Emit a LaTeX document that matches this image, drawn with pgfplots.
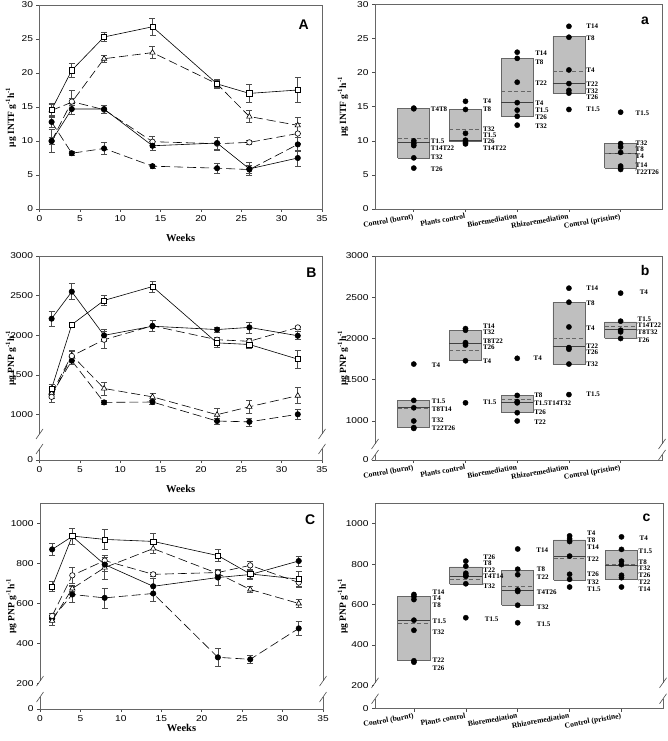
\documentclass[border=0pt]{standalone}
\usepackage{fontspec}
\setmainfont{Liberation Serif}
\setsansfont{Liberation Sans}
\newfontfamily\tickfont[FakeStretch=1.2]{Liberation Sans}
\newfontfamily\letterfont{Liberation Sans}
\usepackage{pgfplots}
\pgfplotsset{compat=1.18}
\pgfplotsset{
 base/.style={scale only axis, clip=false, axis line style={draw=black!60, line width=0.8pt},
   tick style={draw=black!70, line width=0.6pt}, tick align=outside, major tick length=3pt, tick pos=left,
   tick label style={font=\tickfont\fontsize{8.5}{9}\selectfont}, /pgf/number format/assume math mode=true,
   ylabel style={font=\bfseries\fontsize{9.5}{10}\selectfont, anchor=center},
   xlabel style={font=\bfseries\fontsize{10.5}{11}\selectfont, anchor=center}},
 leftp/.style={base, width=282.5pt, xmin=0, xmax=35, xtick={0,5,...,35}, xlabel={Weeks},
   ylabel style={at={(axis description cs:-0.101,0.5)}}},
 rightp/.style={base, width=287pt, xmin=0.25, xmax=5.8, xtick={1,2,3,4,5},
   xticklabels={Control (burnt),Plants control,Bioremediation,Rhizoremediation,Control (pristine)},
   xticklabel style={font=\bfseries\fontsize{7.6}{8}\selectfont, rotate=10, anchor=north east, inner sep=1pt},
   ylabel style={at={(axis description cs:-0.1115,0.5)}}},
 sFS/.style={black, line width=0.6pt, solid, mark=*, mark size=2.7pt, mark options={solid, fill=black}},
 sOS/.style={black, line width=0.6pt, solid, mark=square*, mark size=2.6pt, mark options={solid, fill=white}},
 sOT/.style={black, line width=0.6pt, dash pattern=on 9pt off 4pt, mark=triangle*, mark size=3.1pt, mark options={solid, fill=white}},
 sOC/.style={black, line width=0.6pt, dash pattern=on 9pt off 4pt, mark=*, mark size=2.7pt, mark options={solid, fill=white}},
 sFD/.style={black, line width=0.6pt, dash pattern=on 9pt off 4pt, mark=*, mark size=2.7pt, mark options={solid, fill=black}},
 eb/.style={error bars/.cd, y dir=both, y explicit, error bar style={line width=0.6pt, draw=black!70, solid},
   error mark options={rotate=90, mark size=3pt, line width=0.6pt, draw=black!70, solid}},
 boxst/.style={draw=black!60, line width=0.7pt, fill=black!25},
 medst/.style={draw=black!75, line width=1pt},
 meanst/.style={draw=black!60, line width=1pt, dash pattern=on 4pt off 2.5pt},
 dots/.style={only marks, mark=*, mark size=2.6pt, black},
}
\tikzset{lab/.style={anchor=west, inner sep=0.3pt, font=\bfseries\fontsize{7}{7}\selectfont},
 letter/.style={font=\letterfont\bfseries\fontsize{14}{14}\selectfont}}
\newcommand{\bx}[6]{%
 \addplot[boxst] coordinates {(#1,#3) (#2,#3) (#2,#4) (#1,#4) (#1,#3)};
 \addplot[medst] coordinates {(#1,#5) (#2,#5)};
 \addplot[meanst] coordinates {(#1,#6) (#2,#6)};}
\newcommand{\lb}[3]{\node[lab] at (axis cs:#1,#2) {#3};}
\newcommand{\brk}[4]{%
 \draw[white, line width=2.5pt] (axis cs:#1,#3) -- (axis cs:#1,#4) (axis cs:#2,#3) -- (axis cs:#2,#4);
 \draw[black!70, line width=0.6pt] (axis cs:#1,#3) ++(-3.5pt,-5pt) -- ++(7pt,10pt)
   (axis cs:#1,#4) ++(-3.5pt,-5pt) -- ++(7pt,10pt)
   (axis cs:#2,#3) ++(-3.5pt,-5pt) -- ++(7pt,10pt)
   (axis cs:#2,#4) ++(-3.5pt,-5pt) -- ++(7pt,10pt);}
\begin{document}
\begin{tikzpicture}
\path[use as bounding box] (0,0) rectangle (667pt,-741pt);
%%%%%%%%%%%%%%%% A
\begin{axis}[leftp, at={(39.5pt,-5pt)}, anchor=north west, height=204pt, ymin=0, ymax=30, ytick={0,5,...,30},
  ylabel={μg INTF g\textsuperscript{-1}h\textsuperscript{-1}}, ylabel style={at={(axis description cs:-0.101,0.45)}},
  xlabel style={at={(axis description cs:0.5,-0.142)}}]
\addplot[sFD, eb] coordinates {(1.5,12.8) +- (0,0.8) (4,8.2) +- (0,0.3) (8,8.9) +- (0,0.9) (14,6.3) +- (0,0.3) (22,6.0) +- (0,0.7) (26,5.8) +- (0,0.6) (32,9.5) +- (0,1.0)};
\addplot[sOT, eb] coordinates {(1.5,14.5) +- (0,1.0) (4,15.7) +- (0,1.8) (8,22.1) +- (0,0.5) (14,23.0) +- (0,0.9) (22,18.4) +- (0,0.5) (26,13.6) +- (0,0.9) (32,12.3) +- (0,1.2)};
\addplot[sOC, eb] coordinates {(1.5,10.0) +- (0,1.7) (4,15.8) +- (0,0.5) (8,14.6) +- (0,0.6) (14,9.9) +- (0,0.8) (22,9.6) +- (0,1.0) (26,9.8) +- (0,0.3) (32,11.1) +- (0,1.5)};
\addplot[sFS, eb] coordinates {(1.5,10.0) +- (0,0.5) (4,14.7) +- (0,0.8) (8,14.7) +- (0,0.6) (14,9.3) +- (0,0.6) (22,9.7) +- (0,0.9) (26,5.9) +- (0,0.9) (32,7.5) +- (0,1.2)};
\addplot[sOS, eb] coordinates {(1.5,14.6) +- (0,0.8) (4,20.4) +- (0,1.0) (8,25.3) +- (0,0.7) (14,26.8) +- (0,1.2) (22,18.4) +- (0,0.6) (26,17.0) +- (0,1.3) (32,17.5) +- (0,1.8)};
\node[letter] at (rel axis cs:0.935,0.902) {A};
\end{axis}
%%%%%%%%%%%%%%%% a
\begin{axis}[rightp, at={(375pt,-4.5pt)}, anchor=north west, height=204.5pt, ymin=0, ymax=30, ytick={0,5,...,30},
  ylabel={μg INTF g\textsuperscript{-1}h\textsuperscript{-1}}]
\bx{0.69}{1.31}{7.5}{14.7}{9.8}{10.3}
\bx{1.69}{2.31}{9.9}{14.6}{10.1}{11.6}
\bx{2.69}{3.31}{13.6}{22.1}{15.6}{17.2}
\bx{3.69}{4.31}{17.0}{25.3}{18.4}{20.1}
\bx{4.69}{5.31}{6.0}{9.6}{8.2}{8.2}
\addplot[dots] coordinates {(1,14.8) (1,14.7) (1,10.0) (1,9.6) (1,9.3) (1,7.5) (1,6.0)
 (2,15.8) (2,14.6) (2,11.1) (2,10.1) (2,9.8) (2,9.55)
 (3,23.0) (3,22.1) (3,18.6) (3,15.6) (3,14.5) (3,13.6) (3,12.3)
 (4,26.8) (4,25.2) (4,20.4) (4,18.4) (4,17.4) (4,17.0) (4,14.6)
 (5,14.2) (5,9.6) (5,9.1) (5,8.3) (5,6.3) (5,6.0) (5,5.8)};
\lb{1.32}{14.7}{T4T8}\lb{1.32}{9.9}{T1.5}\lb{1.32}{8.95}{T14T22}\lb{1.32}{7.6}{T32}\lb{1.32}{5.9}{T26}
\lb{2.33}{15.85}{T4}\lb{2.33}{14.6}{T8}\lb{2.33}{11.7}{T32}\lb{2.33}{10.8}{T1.5}\lb{2.33}{9.9}{T26}\lb{2.33}{8.95}{T14T22}
\lb{3.34}{22.8}{T14}\lb{3.34}{21.6}{T8}\lb{3.34}{18.4}{T22}\lb{3.34}{15.5}{T4}\lb{3.34}{14.5}{T1.5}\lb{3.34}{13.4}{T26}\lb{3.34}{12.2}{T32}
\lb{4.33}{26.8}{T14}\lb{4.33}{25.0}{T8}\lb{4.33}{20.4}{T4}\lb{4.33}{18.3}{T22}\lb{4.33}{17.35}{T32}\lb{4.33}{16.35}{T26}\lb{4.33}{14.6}{T1.5}
\lb{5.28}{14.1}{T1.5}\lb{5.28}{9.6}{T32}\lb{5.28}{8.7}{T8}\lb{5.28}{7.8}{T4}\lb{5.28}{6.4}{T14}\lb{5.28}{5.4}{T22T26}
\node[letter] at (rel axis cs:0.941,0.919) {a};
\end{axis}
%%%%%%%%%%%%%%%% B
\begin{axis}[leftp, at={(39.5pt,-256pt)}, anchor=north west, height=204pt, ymin=429, ymax=3000,
  ytick={429,1000,1500,2000,2500,3000}, yticklabels={0,1000,1500,2000,2500,3000},
  ylabel={μg PNP g\textsuperscript{-1}h\textsuperscript{-1}},
  xlabel style={at={(axis description cs:0.5,-0.142)}}]
\addplot[sFD, eb] coordinates {(1.5,1260) +- (0,50) (4,1680) +- (0,40) (8,1155) +- (0,30) (14,1160) +- (0,30) (22,920) +- (0,40) (26,910) +- (0,50) (32,1005) +- (0,60)};
\addplot[sOT, eb] coordinates {(1.5,1270) +- (0,60) (4,1750) +- (0,60) (8,1330) +- (0,80) (14,1225) +- (0,40) (22,1000) +- (0,80) (26,1100) +- (0,80) (32,1240) +- (0,100)};
\addplot[sOC, eb] coordinates {(1.5,1225) +- (0,70) (4,1740) +- (0,60) (8,1945) +- (0,110) (14,2120) +- (0,70) (22,1945) +- (0,30) (26,1925) +- (0,40) (32,2100) +- (0,20)};
\addplot[sFS, eb] coordinates {(1.5,2210) +- (0,90) (4,2550) +- (0,100) (8,2000) +- (0,80) (14,2115) +- (0,70) (22,2073) +- (0,30) (26,2100) +- (0,70) (32,1995) +- (0,50)};
\addplot[sOS, eb] coordinates {(1.5,1330) +- (0,50) (4,2135) +- (0,30) (8,2440) +- (0,60) (14,2615) +- (0,70) (22,1905) +- (0,50) (26,1885) +- (0,50) (32,1700) +- (0,110)};
\brk{0}{35}{757}{568}
\node[letter] at (rel axis cs:0.963,0.917) {B};
\end{axis}
%%%%%%%%%%%%%%%% b
\begin{axis}[rightp, at={(375pt,-256pt)}, anchor=north west, height=204pt, ymin=527, ymax=3000,
  ytick={527,1000,1500,2000,2500,3000}, yticklabels={0,1000,1500,2000,2500,3000},
  ylabel={μg PNP g\textsuperscript{-1}h\textsuperscript{-1}}]
\bx{0.69}{1.31}{920}{1250}{1160}{1150}
\bx{1.69}{2.31}{1730}{2100}{1940}{1850}
\bx{2.69}{3.31}{1100}{1310}{1220}{1265}
\bx{3.69}{4.31}{1690}{2440}{1900}{2000}
\bx{4.69}{5.31}{2000}{2200}{2110}{2140}
\addplot[dots] coordinates {(1,1690) (1,1250) (1,1160) (1,1000) (1,920) (1,910)
 (2,2120) (2,2100) (2,1950) (2,1920) (2,1730) (2,1220)
 (3,1760) (3,1310) (3,1235) (3,1220) (3,1100) (3,1000)
 (4,2610) (4,2440) (4,2140) (4,1890) (4,1870) (4,1690) (4,1320)
 (5,2550) (5,2210) (5,2100) (5,2080) (5,2000)};
\lb{1.34}{1673}{T4}\lb{1.34}{1242}{T1.5}\lb{1.34}{1141}{T8T14}\lb{1.34}{1012}{T32}\lb{1.34}{915}{T22T26}
\lb{2.33}{2155}{T14}\lb{2.33}{2072}{T32}\lb{2.33}{1972}{T8T22}\lb{2.33}{1890}{T26}\lb{2.33}{1722}{T4}\lb{2.33}{1226}{T1.5}
\lb{3.31}{1758}{T4}\lb{3.32}{1318}{T8}\lb{3.32}{1214}{T1.5T14T32}\lb{3.32}{1105}{T26}\lb{3.32}{985}{T22}
\lb{4.33}{2613}{T14}\lb{4.33}{2427}{T8}\lb{4.33}{2121}{T4}\lb{4.33}{1912}{T22}\lb{4.33}{1830}{T26}\lb{4.33}{1690}{T32}\lb{4.33}{1322}{T1.5}
\lb{5.36}{2556}{T4}\lb{5.32}{2236}{T1.5}\lb{5.32}{2157}{T14T22}\lb{5.32}{2077}{T8T32}\lb{5.32}{1985}{T26}
\brk{0.25}{5.8}{721}{588}
\node[letter] at (rel axis cs:0.941,0.928) {b};
\end{axis}
%%%%%%%%%%%%%%%% C
\begin{axis}[leftp, at={(40pt,-503.5pt)}, anchor=north west, height=205.5pt, width=283pt, ymin=71, ymax=1101,
  ytick={71,200,400,600,800,1000}, yticklabels={0,200,400,600,800,1000},
  ylabel={μg PNP g\textsuperscript{-1}h\textsuperscript{-1}},
  xlabel style={at={(axis description cs:0.5,-0.09)}}]
\addplot[sFD, eb] coordinates {(1.5,525) +- (0,15) (4,645) +- (0,40) (8,628) +- (0,50) (14,650) +- (0,40) (22,330) +- (0,45) (26,320) +- (0,20) (32,475) +- (0,35)};
\addplot[sOT, eb] coordinates {(1.5,513) +- (0,20) (4,675) +- (0,15) (8,780) +- (0,60) (14,875) +- (0,25) (22,750) +- (0,15) (26,670) +- (0,15) (32,600) +- (0,20)};
\addplot[sOC, eb] coordinates {(1.5,538) +- (0,15) (4,741) +- (0,40) (8,815) +- (0,15) (14,746) +- (0,10) (22,755) +- (0,15) (26,791) +- (0,20) (32,705) +- (0,20)};
\addplot[sFS, eb] coordinates {(1.5,871) +- (0,30) (4,936) +- (0,40) (8,795) +- (0,35) (14,686) +- (0,40) (22,730) +- (0,40) (26,745) +- (0,20) (32,813) +- (0,25)};
\addplot[sOS, eb] coordinates {(1.5,684) +- (0,25) (4,938) +- (0,40) (8,921) +- (0,50) (14,911) +- (0,40) (22,840) +- (0,30) (26,748) +- (0,25) (32,722) +- (0,40)};
\brk{0}{35}{211}{131}
\node[letter] at (rel axis cs:0.955,0.923) {C};
\end{axis}
%%%%%%%%%%%%%%%% c
\begin{axis}[rightp, at={(375pt,-503.5pt)}, anchor=north west, height=205pt, width=288pt, ymin=86, ymax=1100,
  ytick={86,200,400,600,800,1000}, yticklabels={0,200,400,600,800,1000},
  ylabel={μg PNP g\textsuperscript{-1}h\textsuperscript{-1}}]
\bx{0.69}{1.31}{322}{641}{523}{508}
\bx{1.69}{2.31}{700}{786}{740}{724}
\bx{2.69}{3.31}{597}{771}{672}{691}
\bx{3.69}{4.31}{722}{920}{839}{826}
\bx{4.69}{5.31}{725}{870}{793}{797}
\addplot[dots] coordinates {(1,650) (1,640) (1,625) (1,523) (1,473) (1,322) (1,315)
 (2,815) (2,790) (2,755) (2,745) (2,740) (2,703) (2,535)
 (3,875) (3,775) (3,748) (3,672) (3,665) (3,597) (3,510)
 (4,940) (4,925) (4,912) (4,840) (4,750) (4,725) (4,687)
 (5,935) (5,873) (5,815) (5,798) (5,745) (5,733) (5,687)};
\lb{1.35}{661}{T14}\lb{1.35}{630}{T4}\lb{1.35}{598}{T8}\lb{1.35}{516}{T1.5}\lb{1.35}{465}{T32}\lb{1.35}{325}{T22}\lb{1.35}{286}{T26}
\lb{2.33}{836}{T26}\lb{2.33}{803}{T8}\lb{2.33}{771}{T22}\lb{2.33}{739}{T4T14}\lb{2.33}{693}{T32}\lb{2.36}{530}{T1.5}
\lb{3.35}{867}{T14}\lb{3.36}{774}{T8}\lb{3.36}{738}{T22}\lb{3.36}{661}{T4T26}\lb{3.36}{588}{T32}\lb{3.36}{503}{T1.5}
\lb{4.33}{951}{T4}\lb{4.33}{918}{T8}\lb{4.33}{885}{T14}\lb{4.33}{826}{T22}\lb{4.33}{749}{T26}\lb{4.33}{713}{T32}\lb{4.33}{678}{T1.5}
\lb{5.34}{928}{T4}\lb{5.32}{865}{T1.5}\lb{5.32}{812}{T8}\lb{5.32}{778}{T32}\lb{5.32}{744}{T26}\lb{5.32}{711}{T22}\lb{5.32}{677}{T14}
\brk{0.25}{5.8}{213}{134}
\node[letter] at (rel axis cs:0.943,0.929) {c};
\end{axis}
\end{tikzpicture}
\end{document}
